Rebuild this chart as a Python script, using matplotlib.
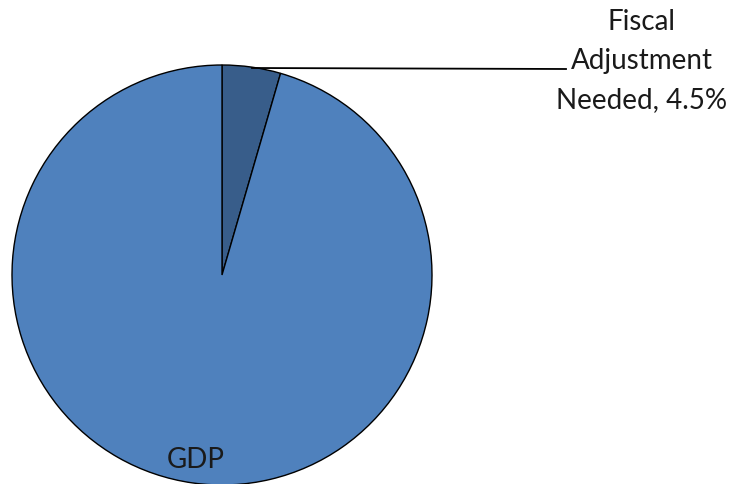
import matplotlib.pyplot as plt

labels = ['Fiscal\nAdjustment\nNeeded, 4.5%', 'GDP']
values = [4.5, 95.5]
colors = ['#385D8A', '#4F81BD']

H = 485
fig = plt.figure(figsize=(7.41, 4.85), dpi=100)
ax = fig.add_axes([0, 0, 1, 1])

ax.pie(values, colors=colors, startangle=90, counterclock=False,
       center=(222, H - 276), radius=210, frame=True,
       wedgeprops=dict(edgecolor='black', linewidth=1.0))
ax.set_xlim(0, 741)
ax.set_ylim(0, H)
ax.axis('off')

# leader line for the small slice
ax.plot([252, 566], [H - 69, H - 70], color='black', lw=1.3)

ax.text(642, H - 61, labels[0], ha='center', va='center', fontsize=20,
        family='Lato', linespacing=1.6, color='#1a1a1a')
ax.text(196, H - 460, labels[1], ha='center', va='center', fontsize=20,
        family='Lato', color='#1a1a1a')

fig.savefig('out.png', dpi=100)
